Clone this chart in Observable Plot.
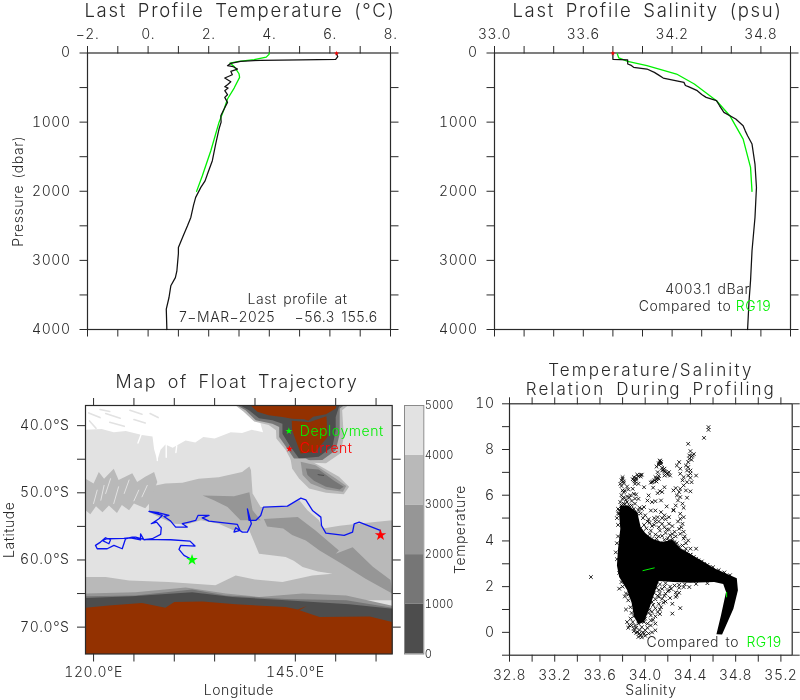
<!DOCTYPE html>
<html><head><meta charset="utf-8">
<script src="https://cdn.jsdelivr.net/npm/d3@7"></script>
<script src="https://cdn.jsdelivr.net/npm/@observablehq/plot@0.6"></script>
<style>
html,body{margin:0;padding:0;background:#fff}
#page{position:relative;width:800px;height:700px;overflow:hidden;filter:blur(.4px)}
#page>div,#page>svg{position:absolute}
svg{background:transparent!important;overflow:visible}
svg text{font-weight:300}
g[font-size="18.5"]{letter-spacing:1.7px;word-spacing:4px}
g[font-size="18"]{letter-spacing:1.6px;word-spacing:4px}
g[font-size="17"]{letter-spacing:2.1px;word-spacing:4px}
g[font-size="14"]{letter-spacing:.55px;word-spacing:2px}
</style></head><body><div id="page"></div>
<script>
// ---------- profile data ----------
const tempP   = [14,53,92,101,106,120,150,183,198,232,265,314,362,415,458,487,507,545,603,642,714,835,907,1000,1100,1200,1317,1450,1558,1751,1850,1944,2089,2200,2300,2379,2500,2644,2813,2900,3000,3151,3250,3368,3537,3705,4000];
const tempV   = [6.22,6.26,6.19,5.03,3.71,3.05,2.73,2.62,2.81,2.95,2.73,2.78,2.53,2.73,2.62,2.53,2.64,2.53,2.62,2.53,2.62,2.48,2.40,2.41,2.34,2.29,2.23,2.17,2.12,1.96,1.88,1.74,1.57,1.5,1.45,1.41,1.3,1.16,1.00,1.0,0.98,0.95,0.9,0.75,0.69,0.60,0.62];
const tempRefP = [0,20,60,95,120,145,200,300,352,507,666,810,1004,1414,1776,2002];
const tempRefV = [4.0,3.99,3.9,3.5,3.0,2.7,2.85,3.0,3.02,2.84,2.62,2.51,2.34,2.07,1.79,1.60];
const salP    = [14,92,101,159,175,207,232,280,320,362,425,470,487,545,600,642,690,760,859,955,1052,1130,1197,1317,1607,1944,2379,2861,3295,3585,4000];
const salV    = [33.80,33.80,33.90,33.90,33.92,33.94,34.03,34.08,34.11,34.14,34.28,34.29,34.31,34.37,34.40,34.43,34.50,34.52,34.55,34.63,34.68,34.695,34.71,34.74,34.76,34.77,34.76,34.74,34.73,34.72,34.71];
const salRefP = [14,72,120,183,304,449,690,907,1245,1655,2002];
const salRefV = [33.83,33.84,33.90,34.03,34.23,34.35,34.50,34.59,34.68,34.73,34.74];
// ---------- float trajectory ----------
const trackLon = [132.23,131.2,130.58,130.79,132.57,131.95,129.55,126.24,125.2,124.79,123.96,123.55,122.52,121.69,120.45,120.24,120.86,121.48,122.1,121.9,121.07,121.69,123.76,124.58,125.82,125.82,126.24,127.27,128.31,128.39,127.81,127.15,128.1,128.51,126.86,128.1,129.34,128.72,129.55,130.17,131.61,131,131.82,132.65,132.94,134.3,133.47,134.3,137.82,138.15,137.4,137.61,138.44,139.06,139.55,139.06,139.27,140.09,140.71,141.04,144.02,145.68,146.3,147.12,148.16,148.24,148.78,151.05,152.09,152.29,152.91,155.52,155.52];
const trackLat = [-59.97,-59.32,-58.43,-57.83,-57.93,-57.19,-56.99,-56.94,-56.59,-56.59,-56.84,-58.33,-57.83,-58.33,-58.33,-57.83,-57.34,-56.69,-56.99,-57.58,-57.09,-56.84,-56.79,-56.69,-56.99,-56.1,-56.99,-56.84,-56.2,-55.2,-54.36,-54.6,-53.86,-53.37,-52.77,-52.97,-53.37,-53.52,-54.21,-55.1,-55.1,-54.6,-54.36,-54.11,-53.37,-53.37,-53.72,-54.21,-54.71,-55.6,-55.85,-55.2,-55.85,-55.85,-54.61,-52.38,-54.11,-54.11,-53.37,-52.13,-51.98,-50.79,-51.04,-52.62,-53.62,-54.86,-56,-56.34,-55.85,-54.61,-54.36,-55.6,-56.25];
// ---------- bathymetry outlines (lon, lat) ----------
const seaWhite = [[119,-37],[140,-37],[141,-41],[139.6,-40.6],[138.4,-41.1],[137,-41],[135,-41.9],[133.6,-41.7],[132.6,-42.5],[131.4,-42.2],[129.8,-43.3],[128.9,-42.8],[128.3,-43.6],[127.9,-45.2],[127.5,-43.5],[127.3,-41.6],[126,-41.4],[124,-40.8],[122.5,-41],[121,-40.5],[119,-40.6]];
const seaFlecks = [[[119.4,-38.1],[120.8,-38.8]],[[119.5,-39.3],[120.3,-40.4]],[[121.5,-38.2],[123.3,-38.9]],[[122,-39.5],[123.8,-40.1]],[[124.5,-37.7],[126,-38.3]],[[125,-39.1],[126.4,-39.6]],[[120.8,-37.6],[122,-37.9]],[[127,-38.2],[128,-38.8]]];
const whiteStreaks = [[[127.9,-41],[127.9,-45.2]],[[129,-42.8],[129,-44.7]],[[126,-41],[125.5,-42.6]],[[130.3,-43],[130.2,-44]]];
const plateau = [[119,-62.54],[121.5,-62.54],[124.4,-63.04],[129.3,-63.29],[135.1,-63.78],[137.6,-62.3],[140,-62.9],[143.4,-63.29],[147.1,-62.3],[149.6,-62.05],[147.8,-61.7],[145.9,-61.06],[144.8,-60.1],[143.8,-59.57],[140.5,-59.07],[139.3,-55.6],[137.4,-55.6],[135.5,-54.6],[133.3,-54.1],[131.5,-54.7],[130,-54.6],[128.4,-53.8],[126.9,-52.9],[126.86,-52.6],[126.9,-49.1],[128.9,-48.6],[131,-48.5],[133,-47.9],[135.5,-47.7],[138.4,-46.9],[139.3,-46.1],[139.5,-46.6],[139.7,-50.1],[140.7,-52.1],[143.8,-52.1],[145.5,-51.1],[146.5,-52.6],[147.9,-54.06],[148.4,-55.3],[150.5,-54.9],[152.7,-54.6],[157,-54.1],[157,-66],[119,-66]];
const streakZone = [[119,-47.9],[120,-48.6],[120.65,-46.9],[121.3,-47.9],[122.5,-46.4],[123.1,-48.1],[124.8,-47.1],[125.4,-48.4],[126.4,-47.6],[127.5,-46.9],[127.9,-48.4],[127.5,-49.6],[126.9,-51.6],[126.4,-52.3],[125,-51.6],[124.4,-52.6],[123.5,-51.8],[122.9,-53],[121.9,-51.9],[121.1,-52.9],[120.3,-52],[119.6,-53.2],[119,-52.6]];
const streaks = [[[122.1,-47.9],[121.5,-50.1]],[[123.1,-49.1],[122.5,-51.6]],[[124.4,-48.1],[123.8,-50.1]],[[125.6,-49.6],[125,-51.2]],[[126.65,-48.9],[126,-50.6]],[[120.45,-49.6],[120,-51.6]],[[121.3,-48.9],[120.9,-51.1]]];
const innerDark = [[133.5,-50.4],[137.4,-50.5],[139.3,-49.9],[139.7,-52.6],[140.7,-54.1],[138.2,-54.1],[136.6,-52.1],[134.9,-51.1]];
const ridgeBand = [[141.1,-53.9],[145.3,-53.6],[147.5,-55.6],[150.4,-58.6],[150,-59.07],[152.1,-58.1],[154.6,-61],[156.8,-63],[157,-65],[153.7,-62.8],[150.8,-60.6],[148,-58.6],[146.3,-57.1],[144.6,-56.3],[143.5,-55.3],[141.5,-55]];
const shelfB9 = [[137.6,-37],[138.6,-37.94],[139.9,-39.4],[141.7,-39.9],[142.6,-40.67],[142.65,-41.9],[143.8,-43.64],[144.6,-45.4],[148.8,-45.6],[150.6,-44.1],[151,-41.66],[150.8,-37.7],[151.5,-37]];
const shelf76 = [[137.8,-37],[138.84,-37.7],[140.1,-39.2],[142.15,-39.7],[143,-40.2],[143,-41.7],[144,-43.4],[145,-45.2],[148.35,-45.13],[150,-43.65],[150.5,-41.2],[150.5,-37.44],[151,-37]];
const shelf4d = [[138.2,-37],[139.25,-37.7],[140.5,-38.9],[142.15,-39.2],[143.4,-39.7],[143.4,-41.2],[144.4,-43.15],[145.46,-44.9],[147.9,-44.64],[149.6,-43.15],[150,-40.7],[150,-38.7],[150.4,-37.2],[150.6,-37]];
const landNorth = [[139.46,-37],[140.3,-37.94],[141.7,-38.44],[143.4,-38.7],[144.6,-38.98],[146.1,-39.03],[146.6,-39.28],[147.2,-38.68],[148.8,-38.29],[150,-37.44],[150.1,-37]];
const tasmania = [[144.55,-39.28],[146.1,-39.43],[146.7,-39.48],[148.85,-38.6],[149,-41.66],[147.5,-43.9],[145.66,-44.14],[145.2,-42.65],[144.6,-40.67]];
const riseB9 = [[144.4,-44.9],[146.3,-44.9],[147.9,-45.88],[150.4,-47.6],[151.66,-49.1],[151,-50.2],[148.8,-50],[146.7,-49.35],[145.46,-47.86],[144.6,-46.37]];
const rise96 = [[145.66,-45.38],[147.5,-45.88],[150,-47.86],[151.3,-49],[150.9,-49.84],[148.8,-49.5],[146.9,-48.6],[145.9,-47.36]];
const rise76 = [[146.3,-46.37],[147.9,-46.52],[149.8,-48.2],[151,-49.1],[150.5,-49.5],[148.8,-49.1],[147.3,-48.2],[146.5,-47.36]];
const rise4d = [[147.7,-47.2],[148.56,-47.36],[148.56,-47.5],[147.86,-47.4]];
const band96 = [[119,-65],[125.2,-64.8],[131.4,-64.1],[136.4,-65],[140.5,-65.5],[145.9,-65],[151.3,-65.3],[157,-66.8],[157,-74],[119,-74]];
const band76 = [[119,-65.4],[125.2,-65.3],[132.2,-64.4],[136.4,-65.3],[143.8,-65.8],[151.3,-66],[157,-67.1],[157,-74],[119,-74]];
const band4d = [[119,-65.67],[124.8,-65.4],[132.2,-64.8],[137.2,-65.5],[143.8,-66],[151.7,-66.6],[157,-67.26],[157,-74],[119,-74]];
const antarctica = [[119,-67.1],[121.9,-66.76],[126,-66.4],[128.9,-67.1],[130,-66.26],[133.5,-66.17],[137.6,-66.6],[143.8,-67],[145.3,-67.36],[146.4,-66.86],[145.5,-67.5],[148,-68.5],[154.2,-68.4],[157,-69.24],[157,-74],[119,-74]];
// ---------- colour bar ----------
const barFrom = [0,1000,2000,3000,4000];
const barTo   = [1000,2000,3000,4000,5000];
const barFill = ["#4d4d4d","#767676","#969696","#b9b9b9","#e2e2e2"];
const barTicks = [0,1000,2000,3000,4000,5000];
// ---------- T/S data ----------
const tsCore = [[33.75,2.93],[33.76,3.66],[33.78,4.53],[33.77,5.12],[33.78,5.55],[33.85,5.55],[33.93,5.25],[33.96,4.6],[34.0,4.35],[34.06,4.1],[34.15,3.95],[34.24,4.05],[34.31,3.68],[34.49,3.17],[34.61,2.8],[34.81,2.37],[34.82,1.84],[34.78,1.03],[34.68,-0.09],[34.63,-0.08],[34.67,0.74],[34.715,1.76],[34.69,2.11],[34.61,2.2],[34.4,2.17],[34.25,2.2],[34.12,2.25],[34.08,1.7],[34.04,1.1],[33.99,0.45],[33.94,0.35],[33.9,0.7],[33.88,1.3],[33.84,1.85],[33.77,2.42]];
const tsS = [34.56,34.56,34.52,34.38,34.40,34.39,34.42,34.41,34.30,34.28,34.38,34.45,34.31,34.37,34.40,34.31,34.34,34.38,34.40,34.33,34.37,34.41,34.34,34.31,34.36,34.40,34.27,34.25,34.30,34.28,34.31,34.29,34.37,34.33,34.34,34.27,34.25,34.31,34.34,
34.13,34.14,34.12,34.17,34.15,34.18,34.21,34.17,34.22,34.11,34.09,34.12,34.08,34.06,34.10,33.99,34.07,34.03,34.02,33.99,34.13,34.11,34.15,34.17,34.06,34.09,34.14,34.19,34.25,33.97,33.95,34.0,34.05,34.09,34.14,34.17,34.21,34.11,34.14,34.12,34.16,34.19,34.1,34.07,34.13,34.05,34.11,34.2,
33.80,33.79,33.78,33.81,33.80,33.81,33.90,33.94,33.96,33.90,33.92,33.91,33.94,33.89,33.90,33.92,33.94,33.84,33.86,33.83,33.80,33.78,33.81,33.79,33.83,33.86,33.88,33.91,33.77,33.80,33.83,33.86,33.90,33.80,33.81,33.79,33.92,33.93,33.91,33.89,33.96,33.97,
34.31,34.33,34.30,34.31,34.34,34.38,34.40,34.45,34.33,34.36,34.37,34.40,34.43,34.47,34.52,34.56,34.32,34.29,34.34,34.36,34.35,
33.98,34.03,34.08,34.12,34.18,34.21,33.99,34.06,34.12,34.17,34.21,34.26,33.98,34.04,34.09,34.15,34.2,34.24,34.0,34.05,34.1,34.16,34.21,33.97,34.02,34.07,34.12,34.18,34.24,34.28,34.27,34.24,34.02,34.15,33.96,34.1,34.03,34.18,34.24,34.14,34.08,34.0,34.25,34.21,34.17,34.12,34.06,34.15,34.09,
33.87,33.89,33.86,33.90,33.93,33.96,33.99,34.0,33.97,34.02,34.05,34.09,34.09,33.94,33.91,34.0,34.05,34.11,34.14,34.18,34.24,34.24,34.31,34.28,34.30,34.27,34.18,34.21,34.34,34.39,33.83,33.82,33.77,34.06,34.12,34.15,
33.88,33.92,33.95,33.98,33.95,33.9,33.92,33.94,33.97,34.0,34.03,34.02,34.05,33.99,34.06,34.07,33.85,33.84,
33.99,34.03,34.08,34.13,34.18,34.22,34.0,34.05,34.1,34.15,34.2,33.98,34.03,34.08,34.13,34.17,33.99,34.04,34.09,34.02,34.07,34.12,34.0,34.04,34.09,34.01,34.06,34.12,34.17,34.26,34.3,34.23,34.27,34.09,34.13,34.03,33.52,
33.78,33.8,33.82,33.85,33.87,33.9,33.93,33.79,33.82,33.84,33.88,33.77,33.76,33.81,33.84,33.87,33.91,33.79,33.82,33.85,33.94,33.96,
34.04,34.08,34.01,34.13,34.19,34.22,34.05,33.98,34.02,34.06,34.11,34.0,33.99,34.06,34.13,34.16,34.22,33.96,33.93,33.9,
34.39,34.41,34.43,34.38,34.36,34.4,34.15,34.17,34.1,34.12,
33.75,33.74,33.75,33.76,33.76,33.75,33.76,33.77,33.79,33.8,33.83,33.85,33.87,33.88,33.87,33.85,
34.26,34.3,34.35,34.4,34.45,34.5,34.55,34.6,34.65,34.7,34.75,34.3,34.35,34.45,34.55];
const tsT = [8.98,8.86,8.51,8.25,7.93,7.74,7.74,7.55,7.45,7.30,7.23,6.86,7.16,7.08,7.08,6.94,6.79,6.86,6.76,6.65,6.57,6.57,6.43,6.28,6.21,6.17,6.31,6.21,6.14,5.99,5.92,5.77,5.89,5.63,5.45,5.55,5.33,5.19,5.04,
7.49,7.37,7.40,7.16,7.08,7.01,7.01,6.86,6.86,7.01,6.79,6.72,6.65,6.57,6.60,6.35,6.33,5.99,5.77,5.48,6.18,6.09,6.14,6.35,5.70,5.74,5.77,5.51,5.36,5.40,5.45,5.12,5.33,5.33,5.26,5.12,5.04,5.04,7.45,7.33,7.12,6.95,6.7,6.6,7.52,6.55,6.75,6.9,
6.79,6.65,6.50,6.53,6.21,6.14,6.79,6.83,6.89,6.65,6.68,6.50,6.50,6.28,6.06,6.03,5.84,6.38,5.89,5.80,5.84,5.70,5.63,5.45,5.45,5.55,5.55,5.63,5.19,5.19,5.26,5.33,5.40,6.72,6.6,6.4,6.75,6.9,6.6,6.7,6.82,6.9,
4.97,4.75,4.53,4.31,4.1,4.02,3.66,3.66,3.8,3.66,3.48,3.4,3.3,3.15,3.0,2.86,4.6,4.85,4.4,3.9,4.2,
5.0,4.95,5.0,4.85,4.95,4.75,4.7,4.65,4.6,4.6,4.5,4.4,4.38,4.3,4.28,4.22,4.12,4.1,4.02,3.9,3.95,3.9,3.9,3.8,3.72,3.8,3.75,3.72,3.85,3.9,4.2,4.65,4.85,5.0,4.55,4.1,4.12,4.35,4.3,3.85,3.68,3.9,3.75,4.0,4.05,4.2,4.1,4.75,4.85,
0.6,0.45,0.3,0.16,0.01,-0.13,-0.06,0.09,0.23,0.38,0.52,0.38,0.09,0.38,0.3,0.6,0.74,0.89,1.1,1.35,1.25,0.82,1.06,1.62,1.73,1.55,1.69,1.84,1.98,1.98,1.0,1.57,1.91,1.33,1.55,1.47,
0.3,0.2,0.1,0.0,-0.05,0.05,-0.02,-0.2,-0.22,-0.15,-0.05,0.2,0.3,0.45,0.0,0.55,0.2,0.45,
2.1,2.15,2.18,2.1,2.15,2.0,1.95,1.9,1.95,1.9,1.8,1.75,1.7,1.72,1.7,1.6,1.5,1.5,1.45,1.3,1.2,1.25,1.1,1.0,1.05,2.0,2.05,1.85,2.0,2.05,1.95,1.9,1.75,0.7,0.8,0.85,2.42,
5.3,5.4,5.25,5.35,5.2,5.25,5.2,5.55,5.6,5.7,5.75,5.35,5.2,5.9,5.95,6.0,5.85,6.0,6.2,6.25,5.35,5.2,
4.8,4.7,4.55,4.45,4.5,4.25,4.45,1.9,1.85,1.6,1.6,1.3,0.9,0.9,1.0,1.3,1.5,0.7,0.65,0.7,
7.6,7.7,7.8,7.45,7.3,6.95,7.2,7.05,7.25,6.85,
3.2,3.5,3.9,4.2,4.7,5.0,5.4,2.6,2.2,2.0,1.7,1.4,1.1,0.85,1.6,1.65,
3.95,3.75,3.55,3.38,3.22,3.1,2.95,2.85,2.72,2.62,2.5,2.08,2.1,2.12,2.15];
const tsRefSeg1 = [[33.98,2.7],[34.08,2.82]];
const tsRefSeg2 = [[34.72,1.75],[34.72,1.55]];
// ---------- ticks ----------
const tempTicks = [-2,-1,0,1,2,3,4,5,6,7,8];
const tempLabels = [-2,0,2,4,6,8];
const salTicks = [33,33.2,33.4,33.6,33.8,34,34.2,34.4,34.6,34.8,35];
const salLabels = [33,33.6,34.2,34.8];
const presTicks = [0,500,1000,1500,2000,2500,3000,3500,4000];
const presLabels = [0,1000,2000,3000,4000];
const lonTicks = [120,125,130,135,140,145,150,155];
const lonLabels = [120,145];
const latTicks = [-40,-45,-50,-55,-60,-65,-70];
const latLabels = [-40,-50,-60,-70];
const tsXTicks = [32.8,33,33.2,33.4,33.6,33.8,34,34.2,34.4,34.6,34.8,35,35.2];
const tsXLabels = [32.8,33.2,33.6,34,34.4,34.8,35.2];
const tsYTicks = [-1,0,1,2,3,4,5,6,7,8,9,10];
const tsYLabels = [0,2,4,6,8,10];

const INK="#2a2a2a", GREEN="#00f000", RED="#ff0000";
const FONT="Inter, 'DejaVu Sans', sans-serif";
const TICK={stroke:INK,strokeWidth:1,label:null,fill:"none"};
const LAB={tickSize:0,label:null,fontSize:14,fill:INK,stroke:null};
const frame=Plot.frame({stroke:INK,strokeWidth:1.2});
const fourSide=(xt,yt,len=7.5)=>[
  Plot.axisX(xt,{anchor:"top",tickSize:len,...TICK}),Plot.axisX(xt,{anchor:"bottom",tickSize:len,...TICK}),
  Plot.axisY(yt,{anchor:"left",tickSize:len,...TICK}),Plot.axisY(yt,{anchor:"right",tickSize:len,...TICK})];
const title=(t,dx,dy,fontSize=18.5,lineHeight=1)=>Plot.text([t],{frameAnchor:"top",dx,dy,fontSize,fill:INK,lineHeight});
const axisName=(t,anchor,off)=>Plot.text([t],anchor==="left"
  ?{frameAnchor:"left",textAnchor:"middle",dx:off,rotate:-90,fontSize:14,fill:INK}
  :{frameAnchor:"bottom",dy:off,fontSize:14,fill:INK});
const note=(t,x,y,fill=INK,textAnchor="middle",fontSize=14)=>Plot.text([t],{x:()=>x,y:()=>y,fill,textAnchor,fontSize});
const line=(xs,ys,stroke,w=1.25)=>Plot.line(xs.map((x,i)=>[x,ys[i]]),{x:d=>d[0],y:d=>d[1],stroke,strokeWidth:w,curve:"linear"});
const poly=(pts,fill)=>Plot.line(pts,{x:d=>d[0],y:d=>d[1],fill,stroke:"none",curve:"linear-closed"});
const seg=(s,stroke,w)=>Plot.line(s,{x:d=>d[0],y:d=>d[1],stroke,strokeWidth:w});

function place(box,opts){
  const [left,top,w,h,fl,ft,fr,fb]=box;
  const svg=Plot.plot({width:w,height:h,marginLeft:fl-left,marginTop:ft-top,marginRight:left+w-fr,marginBottom:top+h-fb,
    style:{fontFamily:FONT,background:"transparent",overflow:"visible"},...opts});
  svg.style.left=left+"px";svg.style.top=top+"px";
  document.getElementById("page").appendChild(svg);
}
const profileAxes=(xt,xl,fmt)=>[
  ...fourSide(xt,presTicks),
  Plot.axisX(xl,{anchor:"top",tickPadding:14,tickFormat:fmt,...LAB}),
  Plot.axisY(presLabels,{anchor:"left",tickPadding:17,tickFormat:d=>String(d),...LAB})];

// Temperature profile
place([0,0,400,345, 87,52.5,390,329],{
  x:{domain:[-2,8]},y:{domain:[4000,0]},
  marks:[frame,...profileAxes(tempTicks,tempLabels,d=>(d<0?"\u2212":"")+Math.abs(d)+"."),
    line(tempRefV,tempRefP,GREEN,1.3),line(tempV,tempP,"#111"),
    Plot.dot([[6.22,5]],{x:d=>d[0],y:d=>d[1],symbol:"star",r:1.5,fill:RED}),
    title("Last Profile Temperature (\u00b0C)",1,-49),
    axisName("Pressure (dbar)","left",-69),
    note("Last profile at",4.93,3570),
    note("7\u2212MAR\u22122025   \u221256.3 155.6",4.3,3830)]});
// Salinity profile
place([400,0,400,345, 494,52.5,790,329],{
  x:{domain:[33,35]},y:{domain:[4000,0]},
  marks:[frame,...profileAxes(salTicks,salLabels,d=>d.toFixed(1)),
    line(salRefV,salRefP,GREEN,1.3),line(salV,salP,"#111"),
    Plot.dot([[33.8,5]],{x:d=>d[0],y:d=>d[1],symbol:"star",r:1.5,fill:RED}),
    title("Last Profile Salinity (psu)",5,-49),
    note("4003.1 dBar",34.44,3425),
    note("Compared to",34.6,3665,INK,"end"),note("RG19",34.63,3665,GREEN,"start")]});
// Map
place([0,345,400,355, 85,405,391.7,653.5],{
  x:{domain:[119,157]},y:{domain:[-74,-37]},
  marks:[
    Plot.frame({fill:"#e2e2e2"}),
    poly(seaWhite,"#fff"),...seaFlecks.map(s=>seg(s,"#e2e2e2",1.6)),...whiteStreaks.map(s=>seg(s,"#fff",1.4)),
    poly(plateau,"#b9b9b9"),poly(streakZone,"#b9b9b9"),...streaks.map(s=>seg(s,"#e2e2e2",1)),
    poly(innerDark,"#969696"),poly(ridgeBand,"#969696"),
    poly(shelfB9,"#b9b9b9"),poly(shelf76,"#767676"),poly(shelf4d,"#4d4d4d"),poly(landNorth,"#933100"),poly(tasmania,"#933100"),
    poly(riseB9,"#b9b9b9"),poly(rise96,"#969696"),poly(rise76,"#767676"),poly(rise4d,"#4d4d4d"),
    poly(band96,"#969696"),poly(band76,"#767676"),poly(band4d,"#4d4d4d"),poly(antarctica,"#933100"),
    frame,...fourSide(lonTicks,latTicks,8),
    Plot.axisX(lonLabels,{anchor:"bottom",tickPadding:13,tickFormat:d=>d.toFixed(1)+"\u00b0E",...LAB}),
    Plot.axisY(latLabels,{anchor:"left",tickPadding:16,tickFormat:d=>(-d).toFixed(1)+"\u00b0S",...LAB}),
    line(trackLon,trackLat,"#0a14f0",1.3),
    Plot.dot([[132.2,-60]],{x:d=>d[0],y:d=>d[1],symbol:"star",r:3.6,fill:"#00ff00"}),
    Plot.dot([[155.55,-56.3]],{x:d=>d[0],y:d=>d[1],symbol:"star",r:3.6,fill:RED}),
    Plot.dot([[144.2,-40.8]],{x:d=>d[0],y:d=>d[1],symbol:"star",r:2.2,fill:"#00ff00"}),
    Plot.dot([[144.27,-43.45]],{x:d=>d[0],y:d=>d[1],symbol:"star",r:2.2,fill:RED}),
    note("Deployment",145.55,-40.8,GREEN,"start"),note("Current",145.55,-43.45,RED,"start"),
    title("Map of Float Trajectory",-2,-30,18),
    axisName("Latitude","left",-76),axisName("Longitude","bottom",41)]});
// Colour bar
place([400,345,60,355, 404,405,423.3,653.5],{
  x:{domain:[0,1],axis:null},y:{domain:[0,5000]},
  marks:[
    Plot.rect(barFrom.map((d,i)=>i),{x1:()=>0,x2:()=>1,y1:i=>barFrom[i],y2:i=>barTo[i],fill:i=>barFill[i]}),
    Plot.frame({stroke:"#8a8a8a",strokeWidth:1}),
    Plot.axisY(barTicks,{anchor:"right",tickSize:0,tickPadding:1,label:null,fontSize:11,fill:INK,tickFormat:d=>String(d)})]});
// T/S
place([460,345,340,355, 509,403.3,791.7,654.7],{
  x:{domain:[32.8,35.3]},y:{domain:[-1,10]},
  marks:[frame,...fourSide(tsXTicks,tsYTicks,7),
    Plot.axisX(tsXLabels,{anchor:"bottom",tickPadding:15,tickFormat:d=>d.toFixed(1),...LAB}),
    Plot.axisY(tsYLabels,{anchor:"left",tickPadding:15,tickFormat:d=>String(d),...LAB}),
    poly(tsCore,"#000"),
    Plot.dot(tsS.map((s,i)=>[s,tsT[i]]),{x:d=>d[0],y:d=>d[1],symbol:"times",r:1.8,stroke:"#000",strokeWidth:.85}),
    seg(tsRefSeg1,GREEN,1),seg(tsRefSeg2,GREEN,1),
    title("Temperature/Salinity\nRelation During Profiling",0,-41,17,1.1),
    note("Compared to",34.83,-0.45,INK,"end"),note("RG19",34.895,-0.45,GREEN,"start"),
    axisName("Temperature","left",-49),axisName("Salinity","bottom",40)]});
</script></body></html>
